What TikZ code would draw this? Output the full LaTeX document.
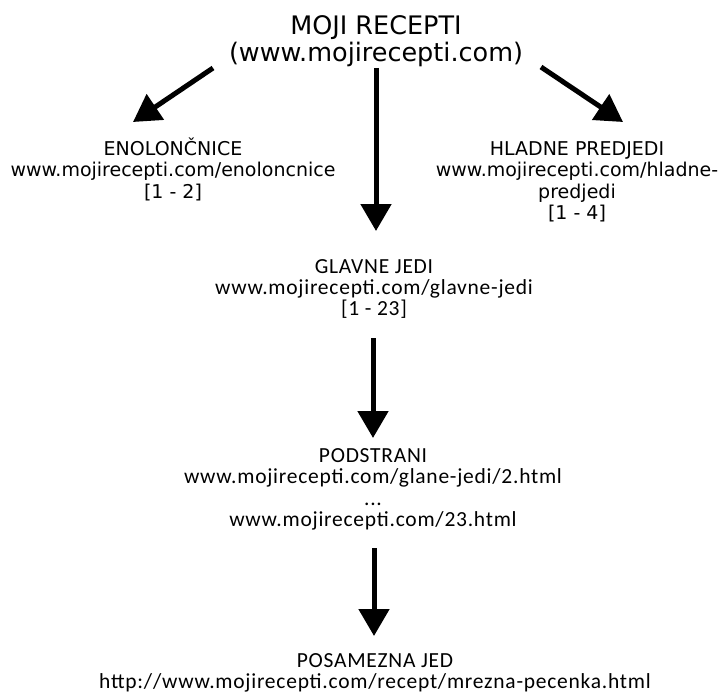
\documentclass[tikz,border=0pt]{standalone}
\usepackage{fontspec}
\usetikzlibrary{arrows.meta}
\newfontfamily\tahfont{DejaVu Sans}
\newfontfamily\calfont[LetterSpace=3.5]{Carlito}
\tikzset{
  lbl/.style={anchor=base, inner sep=0pt, outer sep=0pt},
  arr/.style={line width=5pt, -{Triangle[width=30pt,length=27pt]}},
}
\newcommand{\blk}[1]{\begin{tabular}[t]{@{}c@{}}#1\end{tabular}}
\begin{document}
\begin{tikzpicture}[x=1pt,y=-1pt]
\useasboundingbox (0,0) rectangle (723,693);
\node[lbl, font={\tahfont\fontsize{25.5}{24}\selectfont}] (title) at (376,35)
  {\blk{MOJI RECEPTI\\(www.mojirecepti.com)}};
\node[lbl, font={\tahfont\fontsize{19}{21.5}\selectfont}] (enol) at (173,155)
  {\blk{ENOLONČNICE\\www.mojirecepti.com/enoloncnice\\\relax[1 - 2]}};
\node[lbl, font={\tahfont\fontsize{19}{21.5}\selectfont}] (hlad) at (577,155)
  {\blk{HLADNE PREDJEDI\\www.mojirecepti.com/hladne-\\predjedi\\\relax[1 - 4]}};
\node[lbl, font={\calfont\fontsize{21.5}{20.5}\selectfont}] (glav) at (374,273)
  {\blk{GLAVNE JEDI\\www.mojirecepti.com/glavne-jedi\\\relax[1 - 23]}};
\node[lbl, font={\calfont\fontsize{21.5}{21.5}\selectfont}] (pod) at (373,462)
  {\blk{PODSTRANI\\www.mojirecepti.com/glane-jedi/2.html\\...\\www.mojirecepti.com/23.html}};
\node[lbl, font={\calfont\fontsize{21.5}{21}\selectfont}] (pos) at (375,667)
  {\blk{POSAMEZNA JED\\http://www.mojirecepti.com/recept/mrezna-pecenka.html}};
\coordinate (a1s) at (213,68);  \coordinate (a1e) at (133,122);
\coordinate (a2s) at (376,68);  \coordinate (a2e) at (376,231);
\coordinate (a3s) at (541,67);  \coordinate (a3e) at (623,122);
\coordinate (a4s) at (373,338); \coordinate (a4e) at (373,438);
\coordinate (a5s) at (374,548); \coordinate (a5e) at (374,636);
\draw[arr] (a1s) -- (a1e);
\draw[arr] (a2s) -- (a2e);
\draw[arr] (a3s) -- (a3e);
\draw[arr] (a4s) -- (a4e);
\draw[arr] (a5s) -- (a5e);
\end{tikzpicture}
\end{document}
